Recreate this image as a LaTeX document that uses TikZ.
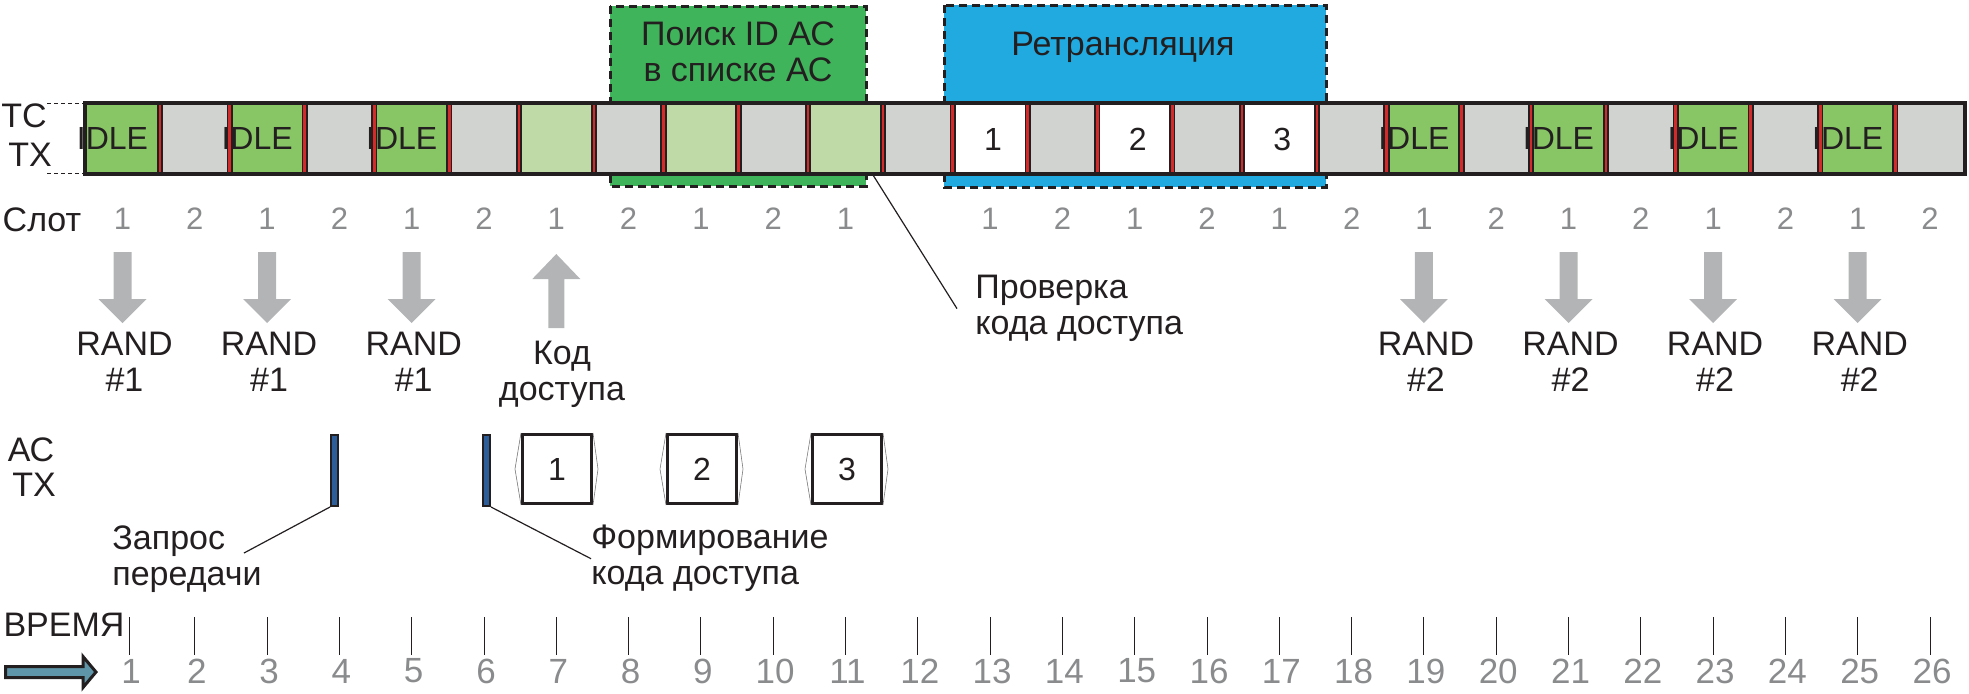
\documentclass[tikz,border=0pt]{standalone}
\usepackage{fontspec}
\setmainfont{Liberation Sans}
\usetikzlibrary{positioning}

\definecolor{ink}{HTML}{231F20}
\definecolor{idlegreen}{HTML}{88C565}
\definecolor{slotgray}{HTML}{D1D3D0}
\definecolor{palegreen}{HTML}{BFDAA6}
\definecolor{searchgreen}{HTML}{40B45A}
\definecolor{relayblue}{HTML}{20AAE0}
\definecolor{guardred}{HTML}{D42A2A}
\definecolor{arrowgray}{HTML}{B3B4B6}
\definecolor{numgray}{HTML}{8A8B8D}
\definecolor{timeblue}{HTML}{5F95A8}
\definecolor{acblue}{HTML}{2E5E99}

\tikzset{
  txt/.style={font=\fontsize{17}{18}\selectfont, text=ink, inner sep=0pt, align=center},
  leftxt/.style={txt, align=left, anchor=north west},
  slotnum/.style={font=\fontsize{15.5}{18}\selectfont, text=numgray, inner sep=0pt},
  timenum/.style={font=\fontsize{17.5}{18}\selectfont, text=numgray, inner sep=0pt},
  celltxt/.style={font=\fontsize{16}{18}\selectfont, text=ink, inner sep=0pt},
  guard/.style={draw=ink, line width=0.9pt, double=guardred, double distance=1.3pt},
  zone/.style={draw=ink, line width=1.5pt, dash pattern=on 4pt off 2.5pt},
  packet/.style={draw=ink, line width=1.5pt, fill=white, minimum width=34.5pt,
    minimum height=34.5pt, inner sep=0pt, font=\fontsize{16}{18}\selectfont, text=ink},
  txbar/.style={draw=ink, line width=1.2pt, fill=acblue, minimum width=3.3pt,
    minimum height=35.3pt, inner sep=0pt},
  leader/.style={draw=ink, line width=0.6pt},
  tick/.style={draw=ink, line width=0.5pt},
}

\begin{document}
\begin{tikzpicture}[x=0.5pt, y=-0.5pt]
\useasboundingbox (0,0) rectangle (1969,693);

% --- Zones behind the frame
\filldraw[zone, fill=searchgreen] (610,6) rectangle (866,186);
\node[txt, anchor=north] (search) at (738,21) {Поиск ID АС\\в списке АС};
\filldraw[zone, fill=relayblue] (944,5) rectangle (1326,187);
\node[txt, anchor=north] (relay) at (1123,32) {Ретрансляция};

% --- TC TX frame: slot pairs
\foreach \j/\fc in {0/idlegreen, 1/idlegreen, 2/idlegreen, 3/palegreen, 4/palegreen,
    5/palegreen, 6/white, 7/white, 8/white, 9/idlegreen, 10/idlegreen, 11/idlegreen,
    12/idlegreen} {
  \pgfmathsetmacro\p{85+144.6*\j}
  \fill[\fc] (\p,103) rectangle ++(75,71);
  \fill[slotgray] (\p+75,103) rectangle ++(69.6,71);
}
\foreach \j in {0,...,12} {
  \pgfmathsetmacro\p{85+144.6*\j}
  \draw[guard] (\p+75,105) -- (\p+75,172);
  \ifnum\j<12 \draw[guard] (\p+144.6,105) -- (\p+144.6,172); \fi
}
\draw[ink, line width=2pt] (85,103) rectangle (1965,174);

% --- Cell contents
\foreach \j in {0,1,2,9,10,11,12} {
  \pgfmathsetmacro\p{85+144.6*\j}
  \node[celltxt] (idle\j) at (\p+27.5,138) {IDLE};
}
\foreach \j/\n in {6/1,7/2,8/3} {
  \pgfmathsetmacro\p{85+144.6*\j}
  \node[celltxt] (rel\n) at (\p+40.5,139) {\n};
}

% --- Row labels
\draw[ink, line width=0.5pt, dash pattern=on 2pt off 1.5pt] (47,103) -- (85,103) (47,173) -- (85,173);
\node[txt, anchor=north] (tc) at (24,103) {ТС};
\node[txt, anchor=north] (tctx) at (30,143) {TX};
\node[txt, anchor=north] (slot) at (42,207) {Слот};

% --- Slot numbers
\foreach \k in {1,...,26} {
  \ifnum\k=12 \else
  \pgfmathsetmacro\cx{85+144.6*int((\k-1)/2)+(mod(\k,2)==1 ? 37.5 : 109.8)}
  \pgfmathtruncatemacro\s{2-mod(\k,2)}
  \node[slotnum] (s\k) at (\cx,219) {\s};
  \fi
}

% --- RAND arrows
\foreach \k/\r in {1/1,3/1,5/1,19/2,21/2,23/2,25/2} {
  \pgfmathsetmacro\cx{85+144.6*int((\k-1)/2)+37.5}
  \fill[arrowgray] (\cx-9,252) -- (\cx+9,252) -- (\cx+9,299) -- (\cx+24,299)
    -- (\cx,323) -- (\cx-24,299) -- (\cx-9,299) -- cycle;
  \node[txt, anchor=north] (rand\k) at (\cx+2,332) {RAND\\\#\r};
}
\fill[arrowgray] (556.3,254) -- (580.3,279) -- (564.3,279) -- (564.3,328)
  -- (548.3,328) -- (548.3,279) -- (532.3,279) -- cycle;
\node[txt, anchor=north] (code) at (562,341) {Код\\доступа};

% --- AC TX row
\node[txt, anchor=north] (ac) at (31,437) {АС};
\node[txt, anchor=north] (actx) at (34,473) {TX};
\node[txbar] (reqbar) at (334.5,470.5) {};
\node[txbar] (genbar) at (486.5,470.5) {};
\foreach \n/\x in {1/557,2/702,3/847} {
  \node[packet] (pk\n) at (\x,469) {\n};
  \draw[ink!60, line width=0.3pt] (pk\n.north west) -- ([xshift=-3pt]pk\n.west) -- (pk\n.south west)
    (pk\n.north east) -- ([xshift=2.5pt]pk\n.east) -- (pk\n.south east);
}

% --- Callouts
\node[leftxt] (reqtxt) at (112,525) {Запрос\\передачи};
\coordinate (reqend) at (244,553);
\draw[leader] (reqbar.south west) -- (reqend);
\node[leftxt] (gentxt) at (591,525) {Формирование\\кода доступа};
\draw[leader] (genbar.south east) -- (gentxt.west);
\coordinate (chkstart) at (873,175);
\node[leftxt] (chktxt) at (975,275) {Проверка\\кода доступа};
\draw[leader] (chkstart) -- ([xshift=-9pt]chktxt.west);

% --- Time axis
\node[txt] (time) at (64,625) {ВРЕМЯ};
\filldraw[draw=ink, line width=1.5pt, fill=timeblue, line join=miter]
  (5.5,666.5) -- (83,666.5) -- (83,656.5) -- (96,672) -- (83,687.5) -- (83,677.5) -- (5.5,677.5) -- cycle;
\foreach \k in {1,...,26} {
  \pgfmathsetmacro\cx{\k==1 ? 129 : 85+144.6*int((\k-1)/2)+(mod(\k,2)==1 ? 37.5 : 109.8)}
  \node[timenum] (t\k) at (\cx+2,671) {\k};
  \draw[tick] (\cx,617) -- (\cx,655);
}

\end{tikzpicture}
\end{document}
